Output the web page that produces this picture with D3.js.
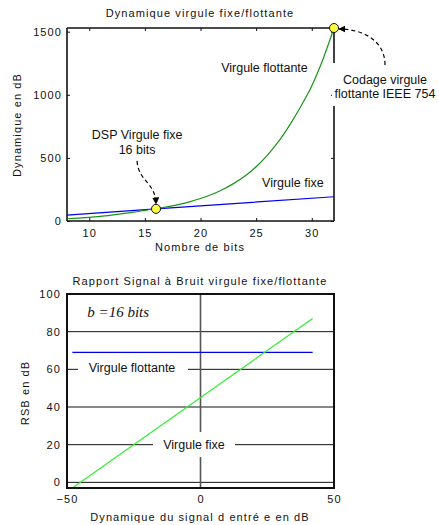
<!DOCTYPE html>
<html><head><meta charset="utf-8">
<script src="https://cdn.jsdelivr.net/npm/d3@7"></script>
<style>
body{margin:0;background:#fff;}
svg{display:block;}
.lbl{font-family:Arial,"Liberation Sans",sans-serif;font-size:11px;letter-spacing:1.1px;fill:#111;}
.ann{font-family:Arial,"Liberation Sans",sans-serif;font-size:12.5px;fill:#111;}
</style></head>
<body>
<script>
// ---- Top chart data: dynamic range (dB) vs number of bits
const bits = [8,9,10,11,12,13,14,15,16,17,18,19,20,21,22,23,24,25,26,27,28,29,30,31,32];
const floatDyn = [18,23,29,37,47,58,70,84,98,112,130,152,178,210,250,298,356,430,520,628,758,905,1070,1280,1529];
const fixedBits = [8,16,32];
const fixedDyn = [46,96,192];
const topXTicks = [10,15,20,25,30];
const topYTicks = [0,500,1000,1500];
const markerPts = [[16,96],[32,1529]];

// ---- Bottom chart data: SNR (dB) vs input signal dynamic (dB)
const snrX = [-48,42];
const snrFloat = [69,69];
const snrFixed = [-3,87];
const botXTicks = [-50,0,50];
const botYTicks = [0,20,40,60,80,100];
const botGrid = [0,20,40,60,80];

const W=439,H=525;
const svg=d3.select("body").append("svg").attr("width",W).attr("height",H);
const defs=svg.append("defs");
defs.append("marker").attr("id","ah").attr("viewBox","0 0 10 10").attr("refX",9).attr("refY",5)
  .attr("markerWidth",6).attr("markerHeight",6).attr("orient","auto")
  .append("path").attr("d","M0,0L10,5L0,10z").attr("fill","#000");

// ================= TOP CHART =================
const xT=d3.scaleLinear().domain([8,32]).range([67,334]);
const yT=d3.scaleLinear().domain([0,1529]).range([221,28]);
const gT=svg.append("g");
const fmt=d3.format("d");

gT.append("text").attr("class","lbl").attr("x",200).attr("y",17).attr("text-anchor","middle")
  .text("Dynamique virgule fixe/flottante");

// axes (inside ticks)
const axB=gT.append("g").attr("transform",`translate(0,${yT(0)})`)
  .call(d3.axisBottom(xT).tickValues(topXTicks).tickFormat(fmt).tickSize(-3).tickPadding(8));
const axTp=gT.append("g").attr("transform",`translate(0,${yT(1529)})`)
  .call(d3.axisTop(xT).tickValues(topXTicks).tickSize(-3).tickFormat(""));
const axL=gT.append("g").attr("transform",`translate(${xT(8)},0)`)
  .call(d3.axisLeft(yT).tickValues(topYTicks).tickFormat(fmt).tickSize(-3).tickPadding(8));
const axR=gT.append("g").attr("transform",`translate(${xT(32)},0)`)
  .call(d3.axisRight(yT).tickValues(topYTicks).tickSize(-3).tickFormat(""));
[axB,axTp,axL,axR].forEach(a=>{a.select(".domain").remove();
  a.selectAll("line").attr("stroke","#111");
  a.selectAll("text").attr("class","lbl").attr("font-size",null).attr("font-family",null);});
axL.selectAll("text").attr("x",-5);

// frame
const fr=[[xT(8),yT(0),xT(8),yT(1529)],[xT(8),yT(1529),xT(32),yT(1529)],[xT(8),yT(0),xT(32),yT(0)],[xT(32),yT(0),xT(32),yT(1529)]];
gT.selectAll(".fr").data(fr).enter().append("line")
  .attr("x1",d=>d[0]).attr("y1",d=>d[1]).attr("x2",d=>d[2]).attr("y2",d=>d[3])
  .attr("stroke","#111").attr("stroke-width",1.6);

// curves
gT.append("path").datum(fixedBits.map((b,i)=>[b,fixedDyn[i]]))
  .attr("d",d3.line().x(d=>xT(d[0])).y(d=>yT(d[1])))
  .attr("fill","none").attr("stroke","#0000ee").attr("stroke-width",1.2);
gT.append("path").datum(bits.map((b,i)=>[b,floatDyn[i]]))
  .attr("d",d3.line().x(d=>xT(d[0])).y(d=>yT(d[1])).curve(d3.curveMonotoneX))
  .attr("fill","none").attr("stroke","#1a931a").attr("stroke-width",1.2);

// white box for IEEE label (breaks right frame)
gT.append("rect").attr("x",xT(32)-2).attr("y",63).attr("width",105).attr("height",43).attr("fill","#fff");
gT.append("text").attr("class","ann").attr("x",385).attr("y",84).attr("text-anchor","middle").text("Codage virgule");
gT.append("text").attr("class","ann").attr("x",385).attr("y",98).attr("text-anchor","middle").text("flottante IEEE 754");

gT.append("text").attr("class","ann").attr("x",xT(25.75)).attr("y",71.5).attr("text-anchor","middle").text("Virgule flottante");
gT.append("text").attr("class","ann").attr("x",xT(28.3)).attr("y",187).attr("text-anchor","middle").text("Virgule fixe");
gT.append("text").attr("class","ann").attr("x",xT(14.3)).attr("y",138.5).attr("text-anchor","middle").text("DSP Virgule fixe");
gT.append("text").attr("class","ann").attr("x",xT(14.3)).attr("y",153.5).attr("text-anchor","middle").text("16 bits");

// arrows
const c1=[xT(markerPts[0][0]),yT(markerPts[0][1])];
const c2=[xT(markerPts[1][0]),yT(markerPts[1][1])];
gT.append("path").attr("d",`M${c1[0]-19},${c1[1]-48} C${c1[0]-17},${c1[1]-26} ${c1[0]-1},${c1[1]-28} ${c1[0]},${c1[1]-5}`)
  .attr("fill","none").attr("stroke","#000").attr("stroke-width",1.2).attr("stroke-dasharray","4,3").attr("marker-end","url(#ah)");
gT.append("path").attr("d",`M${c2[0]+51},${c2[1]+37} C${c2[0]+51},${c2[1]+10} ${c2[0]+25},${c2[1]+1} ${c2[0]+5},${c2[1]+1}`)
  .attr("fill","none").attr("stroke","#000").attr("stroke-width",1.2).attr("stroke-dasharray","4,3").attr("marker-end","url(#ah)");

gT.selectAll(".mk").data(markerPts).enter().append("circle")
  .attr("cx",d=>xT(d[0])).attr("cy",d=>yT(d[1])).attr("r",4.5)
  .attr("fill","#ffff44").attr("stroke","#111").attr("stroke-width",1);

gT.append("text").attr("class","lbl").attr("x",200).attr("y",251).attr("text-anchor","middle").text("Nombre de bits");
gT.append("text").attr("class","lbl").attr("transform",`translate(21,125) rotate(-90)`).attr("text-anchor","middle").text("Dynamique en dB");

// ================= BOTTOM CHART =================
const xB=d3.scaleLinear().domain([-50,50]).range([67,334]);
const yB=d3.scaleLinear().domain([-3,100]).range([488,294]);
const gB=svg.append("g");

gB.append("text").attr("class","lbl").attr("x",200).attr("y",284.5).attr("text-anchor","middle")
  .text("Rapport Signal à  Bruit virgule fixe/flottante");

// gridlines
gB.selectAll(".hg").data(botGrid).enter().append("line")
  .attr("x1",xB(-50)).attr("x2",xB(50)).attr("y1",d=>yB(d)).attr("y2",d=>yB(d))
  .attr("stroke","#111").attr("stroke-width",1);
gB.append("line").attr("x1",xB(0)).attr("x2",xB(0)).attr("y1",yB(100)).attr("y2",yB(-3))
  .attr("stroke","#555").attr("stroke-width",1.6);

// axes labels
const bxa=gB.append("g").attr("transform",`translate(0,${yB(-3)})`)
  .call(d3.axisBottom(xB).tickValues(botXTicks).tickFormat(fmt).tickSize(0).tickPadding(7));
const bya=gB.append("g").attr("transform",`translate(${xB(-50)},0)`)
  .call(d3.axisLeft(yB).tickValues(botYTicks).tickFormat(fmt).tickSize(0).tickPadding(6));
[bxa,bya].forEach(a=>{a.select(".domain").remove();
  a.selectAll("text").attr("class","lbl").attr("font-size",null).attr("font-family",null);});

// series
gB.append("path").datum(snrX.map((v,i)=>[v,snrFloat[i]]))
  .attr("d",d3.line().x(d=>xB(d[0])).y(d=>yB(d[1])))
  .attr("fill","none").attr("stroke","#0000ee").attr("stroke-width",1.2);
gB.append("path").datum(snrX.map((v,i)=>[v,snrFixed[i]]))
  .attr("d",d3.line().x(d=>xB(d[0])).y(d=>yB(d[1])))
  .attr("fill","none").attr("stroke","#33ee33").attr("stroke-width",1.2);

// frame
gB.append("rect").attr("x",xB(-50)).attr("y",yB(100)).attr("width",xB(50)-xB(-50)).attr("height",yB(-3)-yB(100))
  .attr("fill","none").attr("stroke","#111").attr("stroke-width",2);

// labels with white boxes
gB.append("rect").attr("x",78).attr("y",yB(60)-8).attr("width",110).attr("height",16).attr("fill","#fff");
gB.append("text").attr("class","ann").attr("x",132).attr("y",yB(60)+3).attr("text-anchor","middle").text("Virgule flottante");
gB.append("rect").attr("x",153).attr("y",432).attr("width",82).attr("height",25).attr("fill","#fff");
gB.append("text").attr("class","ann").attr("x",194).attr("y",yB(20)+4).attr("text-anchor","middle").text("Virgule fixe");

gB.append("text").attr("x",xB(-42.4)).attr("y",316.5)
  .attr("font-family","'Liberation Serif','Times New Roman',serif").attr("font-style","italic").attr("font-size",15)
  .attr("fill","#111").text("b =16 bits");

gB.append("text").attr("class","lbl").attr("x",200).attr("y",520.5).attr("text-anchor","middle").text("Dynamique du signal d entré e en dB");
gB.append("text").attr("class","lbl").attr("transform",`translate(29,393) rotate(-90)`).attr("text-anchor","middle").text("RSB en dB");
</script>
</body></html>
